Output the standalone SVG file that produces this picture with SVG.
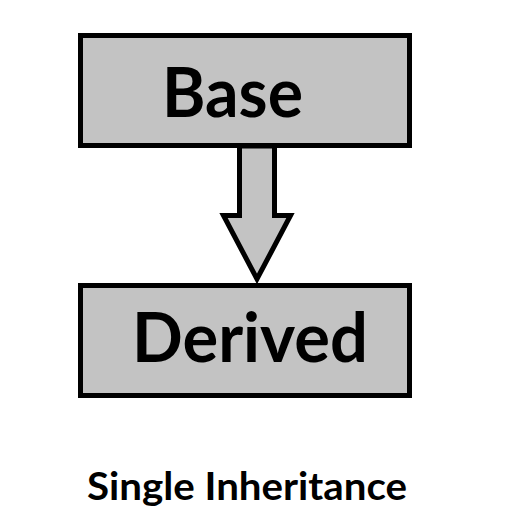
<svg xmlns="http://www.w3.org/2000/svg" width="520" height="529" viewBox="0 0 520 529">
<style>
.box{fill:#c3c3c3;stroke:#000;stroke-width:5}
.lbl{font-family:Lato,"Open Sans","Liberation Sans",sans-serif;font-weight:bold;fill:#000}
</style>
<rect width="520" height="529" fill="#fff"/>
<g id="connectors">
<path class="box" stroke-linejoin="miter" d="M239.5,146 L274.5,146 L274.5,215.5 L290.5,215.5 L257,279 L223.5,215.5 L239.5,215.5 Z"/>
</g>
<g id="base">
<rect class="box" x="80.5" y="35.5" width="329" height="110"/>
<text class="lbl" x="162" y="117" font-size="68" textLength="141" lengthAdjust="spacingAndGlyphs">Base</text>
</g>
<g id="derived">
<rect class="box" x="80.5" y="285.5" width="329" height="110"/>
<text class="lbl" x="132" y="362" font-size="68" textLength="236" lengthAdjust="spacingAndGlyphs">Derived</text>
</g>
<g id="caption">
<text class="lbl" x="87" y="500" font-size="37.5" textLength="320" lengthAdjust="spacingAndGlyphs">Single Inheritance</text>
</g>
</svg>
